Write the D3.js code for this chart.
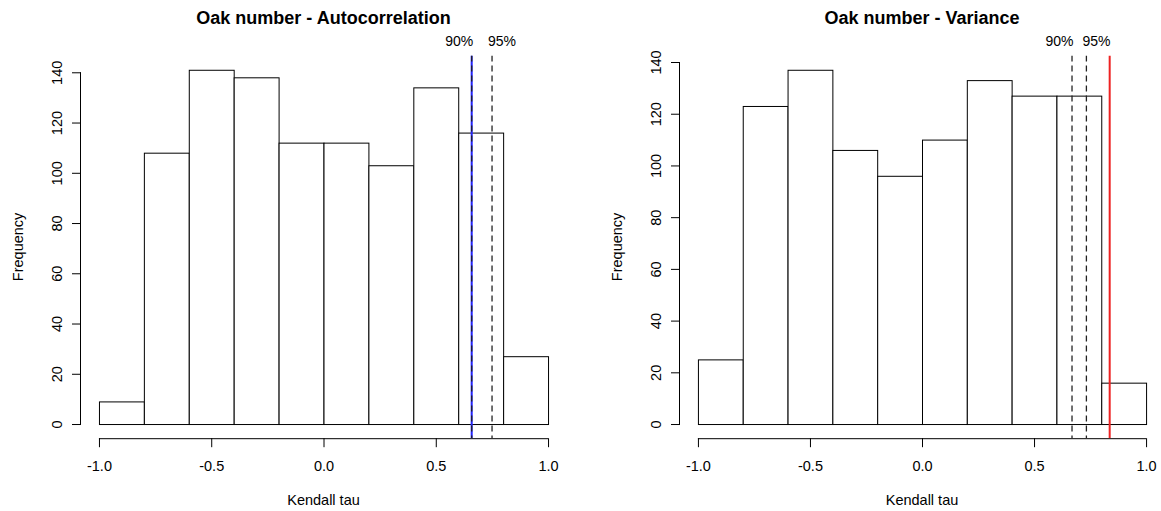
<!DOCTYPE html>
<html>
<head>
<meta charset="utf-8">
<script src="https://cdn.jsdelivr.net/npm/d3@7/dist/d3.min.js"></script>
<style>
  html, body { margin: 0; padding: 0; background: #fff; }
  svg { display: block; }
  text { font-family: "Liberation Sans", Arial, Helvetica, sans-serif; fill: #000; }
</style>
</head>
<body>
<svg id="chart" width="1161" height="511"></svg>
<script>
// ---- data ----
const breaks = [-1.0, -0.8, -0.6, -0.4, -0.2, 0.0, 0.2, 0.4, 0.6, 0.8, 1.0];
const autocorrCounts = [9, 108, 141, 138, 112, 112, 103, 134, 116, 27];
const varianceCounts = [25, 123, 137, 106, 96, 110, 133, 127, 127, 16];
const xTicks = [-1.0, -0.5, 0.0, 0.5, 1.0];
const yTicks = [0, 20, 40, 60, 80, 100, 120, 140];
const autocorrQuantiles = [0.660, 0.7506];   // 90%, 95%
const autocorrObserved = 0.660;
const varianceQuantiles = [0.6695, 0.7337];  // 90%, 95%
const varianceObserved = 0.8376;
const quantileLabels = ["90%", "95%"];
const titles = ["Oak number - Autocorrelation", "Oak number - Variance"];

const svg = d3.select("#chart");

function panel(opts) {
  const g = svg.append("g");
  const { left, right, top, bottom } = opts;
  const xr = [breaks[0], breaks[breaks.length - 1]];
  const xe = (xr[1] - xr[0]) * 0.04;
  const ymax = d3.max(opts.counts);
  const ye = ymax * 0.04;
  const x = d3.scaleLinear().domain([xr[0] - xe, xr[1] + xe]).range([left, right]);
  const y = d3.scaleLinear().domain([-ye, ymax + ye]).range([bottom, top]);

  // bars
  const bins = opts.counts.map((c, i) => ({ x0: breaks[i], x1: breaks[i + 1], c }));
  g.selectAll("rect.bar").data(bins).enter().append("rect")
    .attr("x", d => x(d.x0) + 0.5)
    .attr("y", d => y(d.c) + 0.5)
    .attr("width", d => x(d.x1) - x(d.x0))
    .attr("height", d => y(0) - y(d.c))
    .attr("fill", "#fff")
    .attr("stroke", "#000")
    .attr("stroke-width", 1);

  // x axis
  const xa = g.append("g").attr("transform", `translate(0,${bottom})`)
    .call(d3.axisBottom(x).tickValues(xTicks).tickFormat(d => d.toFixed(1)).tickSize(9).tickPadding(14).tickSizeOuter(0));
  xa.select(".domain").attr("d", `M${x(xTicks[0])},0.5H${x(xTicks[xTicks.length-1])}`).attr("stroke", "#000");
  xa.selectAll(".tick line").attr("stroke", "#000");
  xa.selectAll("text").attr("font-size", 14.5).attr("font-family", '"Liberation Sans", Arial, sans-serif').attr("fill", "#000");

  // y axis
  const ya = g.append("g").attr("transform", `translate(${left},0)`)
    .call(d3.axisLeft(y).tickValues(yTicks).tickSize(9).tickPadding(0).tickSizeOuter(0));
  ya.select(".domain").attr("d", `M-0.5,${y(yTicks[0])}V${y(yTicks[yTicks.length-1])}`).attr("stroke", "#000");
  ya.selectAll(".tick line").attr("stroke", "#000");
  ya.selectAll(".tick text")
    .attr("font-size", 14.5).attr("font-family", '"Liberation Sans", Arial, sans-serif').attr("fill", "#000")
    .attr("x", 0).attr("dy", null)
    .attr("text-anchor", "middle")
    .attr("transform", "translate(-19,0) rotate(-90)");

  // clip for ablines
  const clipId = "clip" + opts.id;
  svg.append("clipPath").attr("id", clipId).append("rect")
    .attr("x", left).attr("y", top).attr("width", right - left).attr("height", bottom - top);
  const lines = g.append("g").attr("clip-path", `url(#${clipId})`);

  // observed line
  lines.append("line")
    .attr("x1", x(opts.observed)).attr("x2", x(opts.observed))
    .attr("y1", top).attr("y2", bottom)
    .attr("stroke", opts.obsColor).attr("stroke-width", 2);

  // quantile dashed lines
  lines.selectAll("line.q").data(opts.quantiles).enter().append("line")
    .attr("class", "q")
    .attr("x1", d => x(d)).attr("x2", d => x(d))
    .attr("y1", top).attr("y2", bottom)
    .attr("stroke", "#222").attr("stroke-width", 1.3)
    .attr("stroke-dasharray", "6,4");

  // quantile labels
  g.selectAll("text.ql").data(opts.quantiles).enter().append("text")
    .attr("class", "ql")
    .attr("x", (d, i) => i === 0 ? x(d) + 1.5 : x(d) - 4)
    .attr("y", 46)
    .attr("text-anchor", (d, i) => i === 0 ? "end" : "start")
    .attr("font-size", 14)
    .text((d, i) => quantileLabels[i]);

  // title
  g.append("text")
    .attr("x", (left + right) / 2).attr("y", 24)
    .attr("text-anchor", "middle")
    .attr("font-size", 18).attr("font-weight", "bold")
    .text(opts.title);

  // axis titles
  g.append("text")
    .attr("x", (left + right) / 2).attr("y", 505)
    .attr("text-anchor", "middle")
    .attr("font-size", 14.5)
    .text("Kendall tau");
  g.append("text")
    .attr("transform", `translate(${left - 58},${(top + bottom) / 2}) rotate(-90)`)
    .attr("text-anchor", "middle")
    .attr("font-size", 14.5)
    .text("Frequency");
}

panel({ id: 1, left: 81, right: 566, top: 55.6, bottom: 438.2,
  counts: autocorrCounts, quantiles: autocorrQuantiles, observed: autocorrObserved,
  obsColor: "#2222ff", title: titles[0] });
panel({ id: 2, left: 680, right: 1164, top: 55.6, bottom: 438.2,
  counts: varianceCounts, quantiles: varianceQuantiles, observed: varianceObserved,
  obsColor: "#ee2222", title: titles[1] });
</script>
</body>
</html>
